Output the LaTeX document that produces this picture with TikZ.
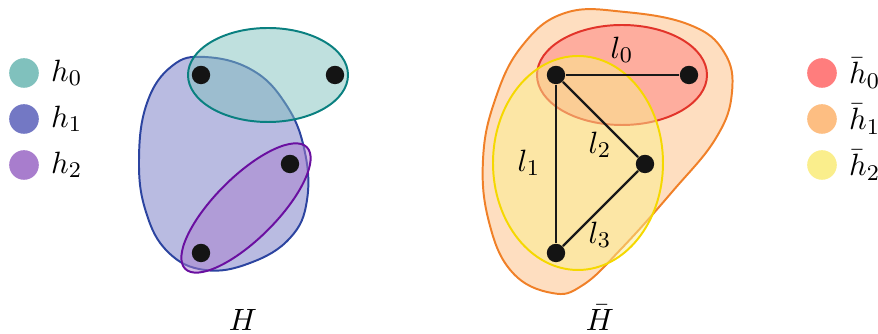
\documentclass[tikz,border=0pt]{standalone}
\usepackage{amsmath}
\usepackage{tikz}
\definecolor{hzero}{HTML}{80C1BD}
\definecolor{hone}{HTML}{7378C4}
\definecolor{htwo}{HTML}{A87DCD}
\definecolor{hzerodark}{HTML}{0A8080}
\definecolor{honedark}{HTML}{2C44A0}
\definecolor{htwodark}{HTML}{6A0FA0}
\definecolor{bzero}{HTML}{FF7D7D}
\definecolor{bone}{HTML}{FDBE82}
\definecolor{btwo}{HTML}{FAEE8C}
\definecolor{bzerodark}{HTML}{E2342A}
\definecolor{bonedark}{HTML}{F08028}
\definecolor{btwodark}{HTML}{F5D800}

\begin{document}
\begin{tikzpicture}[x=0.0125cm, y=-0.0125cm,
        every node/.style={font=\fontsize{11}{13}\selectfont},
        vert/.style={circle, fill=black!92, inner sep=0pt, minimum size=0.23cm},
        legdot/.style={circle, inner sep=0pt, minimum size=0.37cm},
        edge/.style={black!90, thick},
        hyper/.style={fill opacity=0.5, line width=0.7pt}]
      % Canvas: coordinates are pixels of a 878 x 334 frame (y grows down).
      \useasboundingbox (0,0) rectangle (878,334);

      % ---------------- left: hypergraph H ----------------
      % h_1: egg-shaped blob round three vertices
      \filldraw[hyper, fill=hone, draw=honedark]
        plot[smooth cycle, tension=0.7] coordinates {
          (205,57) (252,70) (285,103) (304,148) (307,200) (290,238)
          (250,263) (205,270) (168,252) (146,212) (139,160) (147,103) (172,66)};
      % h_0: top ellipse
      \filldraw[hyper, fill=hzero, draw=hzerodark] (268,75) ellipse (80 and 47);
      % h_2: tilted ellipse
      \filldraw[hyper, fill=htwo, draw=htwodark, rotate around={45:(246,208)}]
        (246,208) ellipse (86 and 31);

      \node[vert] (a0) at (201,75) {};
      \node[vert] (a1) at (335,75) {};
      \node[vert] (a2) at (290,164) {};
      \node[vert] (a3) at (201,253) {};

      \node (hlab) at (243,320) {$H$};

      % ---------------- right: dual hypergraph H-bar ----------------
      % \bar h_1: large orange blob
      \filldraw[hyper, fill=bone, draw=bonedark]
        plot[smooth cycle, tension=0.7] coordinates {
          (565,13) (625,12) (690,25) (724,52) (732,92) (716,138)
          (672,192) (622,248) (583,285) (552,293) (512,272) (489,222)
          (483,160) (495,100) (522,46)};
      % \bar h_0: red ellipse
      \filldraw[hyper, fill=bzero, draw=bzerodark] (622,75) ellipse (85 and 50);
      % \bar h_2: yellow ellipse
      \filldraw[hyper, fill=btwo, draw=btwodark] (578,163) ellipse (85 and 107);

      \node[vert] (b0) at (556,75) {};
      \node[vert] (b1) at (689,75) {};
      \node[vert] (b2) at (645,164) {};
      \node[vert] (b3) at (556,253) {};

      \draw[edge] (b0) -- (b1);
      \draw[edge] (b0) -- (b3);
      \draw[edge] (b0) -- (b2);
      \draw[edge] (b3) -- (b2);

      \node (lzero) at (622,50) {$l_0$};
      \node (lone) at (529,163) {$l_1$};
      \node (ltwo) at (600,145) {$l_2$};
      \node (lthree) at (600,235) {$l_3$};

      \node (hblab) at (600,318) {$\bar{H}$};

      % ---------------- legends ----------------
      \foreach \i/\ypos in {0/73, 1/119, 2/165} {
        \ifcase\i \def\lc{hzero}\or \def\lc{hone}\or \def\lc{htwo}\fi
        \node[legdot, fill=\lc] (hl\i) at (24,\ypos) {};
        \node[anchor=west, inner sep=0pt] (ht\i) at ([xshift=4pt]hl\i.east) {$h_{\i}$};
      }
      \foreach \i/\ypos in {0/73, 1/119, 2/165} {
        \ifcase\i \def\lc{bzero}\or \def\lc{bone}\or \def\lc{btwo}\fi
        \node[legdot, fill=\lc] (bl\i) at (822,\ypos) {};
        \node[anchor=west, inner sep=0pt] (bt\i) at ([xshift=4pt]bl\i.east) {$\bar{h}_{\i}$};
      }

    \end{tikzpicture}
\end{document}
